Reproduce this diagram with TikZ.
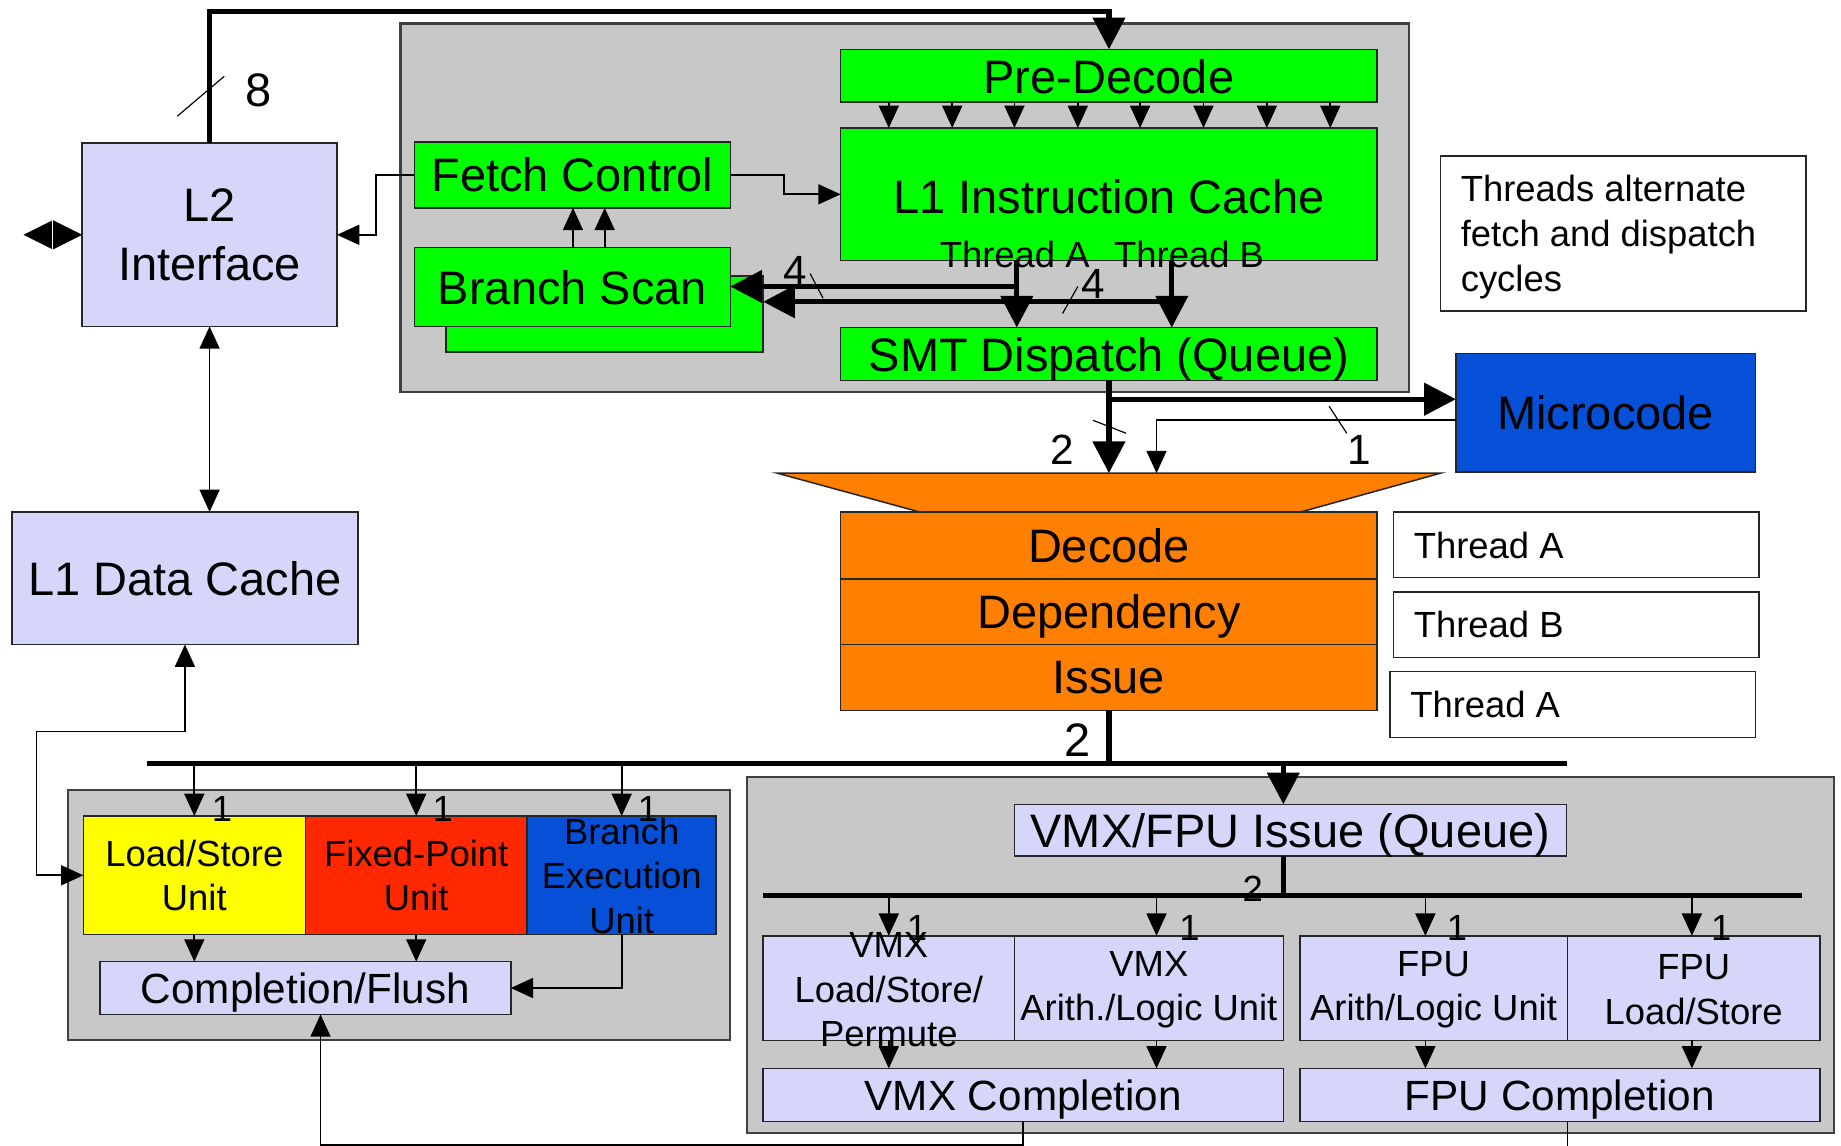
\documentclass[tikz,border=0pt]{standalone}
\usepackage{fontspec}
\setmainfont{Liberation Sans}
\usetikzlibrary{arrows.meta}
\definecolor{lav}{RGB}{214,214,250}
\definecolor{grn}{RGB}{0,255,0}
\definecolor{gry}{RGB}{200,200,200}
\definecolor{org}{RGB}{255,128,0}
\definecolor{ylw}{RGB}{255,255,0}
\definecolor{rd}{RGB}{255,40,0}
\definecolor{blu}{RGB}{5,80,215}
\newcommand\FontL{\fontsize{40}{50}\selectfont}
\newcommand\FontM{\fontsize{36}{43}\selectfont}
\newcommand\FontS{\fontsize{31}{38}\selectfont}
\begin{document}
\begin{tikzpicture}[x=1pt,y=-1pt,
  box/.style={draw=black!85,line width=1.3pt,inner sep=0pt,outer sep=0pt,align=center,font=\FontL},
  oneline/.style={text depth=0pt},
  panel/.style={draw=black!75,line width=2pt,fill=gry,inner sep=0pt,outer sep=0pt},
  unitbox/.style={box,font=\FontS},
  wire/.style={line width=1.5pt,draw=black},
  busline/.style={line width=4.5pt,draw=black},
  arS/.style={-{Triangle[length=19pt,width=17pt]}},
  arSS/.style={{Triangle[length=19pt,width=17pt]}-{Triangle[length=19pt,width=17pt]}},
  arL/.style={-{Triangle[length=27pt,width=27pt]}},
  tickmark/.style={line width=1pt},
  num/.style={font=\FontL,inner sep=0pt,anchor=base},
  numM/.style={font=\FontM,inner sep=0pt,anchor=base},
  numS/.style={font=\FontS,inner sep=0pt,anchor=base},
  celltext/.style={font=\FontS,align=center,inner sep=0pt},
]
\useasboundingbox (0,0) rectangle (1568,976);

% ---------- container panels ----------
\node[panel,minimum width=859pt,minimum height=314pt] (FrontPanel) at (770.5,177) {};
\node[panel,minimum width=564pt,minimum height=213pt] (IntPanel) at (340,779.5) {};
\node[panel,minimum width=926pt,minimum height=303pt] (VecPanel) at (1099,813.5) {};

% ---------- instruction fetch side ----------
\node[box,fill=lav,minimum width=217pt,minimum height=156pt,font=\fontsize{40}{50}\selectfont] (L2) at (178.5,200) {L2\\Interface};
\node[box,oneline,fill=lav,minimum width=295pt,minimum height=113pt] (L1D) at (157.5,492.5) {L1 Data Cache};

\node[box,oneline,fill=grn,minimum width=457pt,minimum height=45pt] (PreDecode) at (944.5,64.5) {\raisebox{-2pt}{Pre-Decode}};
\node[box,oneline,fill=grn,minimum width=457pt,minimum height=113pt] (L1I) at (944.5,165.5) {\raisebox{-3pt}{L1 Instruction Cache}};
\node[box,oneline,fill=grn,minimum width=269pt,minimum height=56pt] (FetchCtl) at (487.5,149) {Fetch Control};
\node[box,fill=grn,minimum width=270pt,minimum height=65pt] (BSshadow) at (515,267.5) {};
\node[box,oneline,fill=grn,minimum width=269pt,minimum height=67pt] (BranchScan) at (487.5,244.5) {Branch Scan};
\node[box,oneline,fill=grn,minimum width=457pt,minimum height=45pt] (SMT) at (944.5,301.5) {SMT Dispatch (Queue)};
\node[font=\FontS,inner sep=0pt,anchor=base] (ThrLbl) at (938.5,228) {Thread A\hspace{0.4em} Thread B};

\node[box,oneline,fill=blu,minimum width=255pt,minimum height=101pt] (Microcode) at (1367.5,351.5) {Microcode};
\node[box,fill=white,minimum width=311pt,minimum height=132pt] (Note) at (1382.5,199) {};
\node[font=\FontS,align=left,anchor=west,inner sep=0pt] (NoteText) at (1244,202) {Threads alternate\\fetch and dispatch\\cycles};

% ---------- decode funnel and stages ----------
\fill[org,draw=black!85,line width=1.3pt] (662,403) -- (1227,403) -- (1108,436) -- (783,436) -- cycle;
\coordinate (FunnelTop) at (944.5,403);
\node[box,oneline,fill=org,minimum width=457pt,minimum height=57pt] (Decode) at (944.5,464.5) {Decode};
\node[box,oneline,fill=org,minimum width=457pt,minimum height=56pt] (Dep) at (944.5,521) {Dependency};
\node[box,oneline,fill=org,minimum width=457pt,minimum height=56pt] (Issue) at (944.5,577) {Issue};

\node[box,fill=white,minimum width=311pt,minimum height=56pt] (ThA1) at (1342.5,464) {};
\node[box,fill=white,minimum width=311pt,minimum height=56pt] (ThB) at (1342.5,532) {};
\node[box,fill=white,minimum width=311pt,minimum height=56pt] (ThA2) at (1339.5,600) {};
\node[font=\FontS,anchor=west,inner sep=0pt] (ThA1t) at (1204,465) {Thread A};
\node[font=\FontS,anchor=west,inner sep=0pt] (ThBt) at (1204,532) {Thread B};
\node[font=\FontS,anchor=west,inner sep=0pt] (ThA2t) at (1201,600) {Thread A};

% ---------- integer / load-store / branch units ----------
\node[unitbox,fill=ylw,minimum width=189pt,minimum height=101pt] (LSU) at (165.5,745.5) {Load/Store\\Unit};
\node[unitbox,fill=rd,minimum width=189pt,minimum height=101pt] (FXU) at (354.5,745.5) {Fixed-Point\\Unit};
\node[unitbox,fill=blu,minimum width=161pt,minimum height=101pt] (BEU) at (529.5,745.5) {};
\node[celltext] (BEUt) at (529.5,746) {Branch\\Execution\\Unit};
\node[box,oneline,fill=lav,minimum width=350pt,minimum height=45pt,font=\FontM] (CompFlush) at (260,841.5) {Completion/Flush};

% ---------- VMX / FPU units ----------
\node[box,oneline,fill=lav,minimum width=470pt,minimum height=44pt] (VFIssue) at (1099,707) {VMX/FPU Issue (Queue)};
\node[unitbox,fill=lav,minimum width=214pt,minimum height=89pt] (VLS) at (757,841.5) {};
\node[celltext] (VLSt) at (757,843) {VMX\\Load/Store/\\Permute};
\node[unitbox,fill=lav,minimum width=229pt,minimum height=89pt] (VAL) at (978.5,841.5) {};
\node[celltext] (VALt) at (978.5,843) {VMX\\Arith./Logic Unit};
\node[unitbox,fill=lav,minimum width=228pt,minimum height=89pt] (FAL) at (1221,841.5) {};
\node[celltext] (FALt) at (1221,843) {FPU\\Arith/Logic Unit};
\node[unitbox,fill=lav,minimum width=215pt,minimum height=89pt] (FLS) at (1442.5,841.5) {};
\node[celltext] (FLSt) at (1442.5,843) {FPU\\Load/Store};
\node[box,oneline,fill=lav,minimum width=443pt,minimum height=45pt,font=\FontM] (VComp) at (871.5,932.5) {VMX Completion};
\node[box,oneline,fill=lav,minimum width=443pt,minimum height=45pt,font=\FontM] (FComp) at (1328.5,932.5) {FPU Completion};

% ---------- L2 external port ----------
\fill (L2.west) -- ++(-25,-12.5) -- ++(0,25) -- cycle;
\fill ([xshift=-50pt]L2.west) -- ++(25,-12.5) -- ++(0,25) -- cycle;
\draw[white,line width=1pt] ([xshift=-25pt,yshift=13pt]L2.west) -- ([xshift=-25pt,yshift=-13pt]L2.west);

% ---------- fetch path ----------
\draw[busline,arL] (L2.north) -- (L2.north |- 0,10) -- (PreDecode.north |- 0,10) -- (PreDecode.north);
\draw[tickmark] (151,99) -- (191,65);
\node[num] (n8) at (220,91) {8};

\draw[wire,arS] (FetchCtl.west) -- ++(-33,0) |- (L2.east);
\draw[wire,arS] (FetchCtl.east) -- ++(46,0) |- (L1I.west);
\foreach \x in {757,811,864,918,971,1025,1079,1133}
  \draw[wire,arS] (\x,0 |- PreDecode.south) -- (\x,0 |- L1I.north);
\draw[wire,arS] (488,0 |- BranchScan.north) -- (488,0 |- FetchCtl.south);
\draw[wire,arS] (515,0 |- BranchScan.north) -- (515,0 |- FetchCtl.south);

\coordinate (TA) at (866,244);
\coordinate (TB) at (998,257);
\draw[busline,arL] (866,0 |- L1I.south) -- (866,0 |- SMT.north);
\draw[busline,arL] (998,0 |- L1I.south) -- (998,0 |- SMT.north);
\draw[busline,arL] (TA) -- (BranchScan.east |- TA);
\draw[busline,arL] (TB) -- (BSshadow.east |- TB);
\draw[tickmark] (690,233) -- (701,254);
\node[numM] (n4a) at (677,243) {4};
\draw[tickmark] (905,267) -- (918,244);
\node[numM] (n4b) at (931,254) {4};

% ---------- dispatch to decode / microcode ----------
\draw[busline,arL] (SMT.south) -- (FunnelTop);
\draw[busline,arL] (SMT.south |- 0,340) -- (Microcode.west |- 0,340);
\draw[wire,arS] (Microcode.west |- 0,358) -| (985,0 |- FunnelTop);
\draw[tickmark] (931,358) -- (959,369);
\node[numM] (n2a) at (904.5,396) {2};
\draw[tickmark] (1132,346) -- (1147,369);
\node[numM] (n1a) at (1158,396) {1};

% ---------- issue bus ----------
\coordinate (BusL) at (125,650);
\coordinate (BusR) at (1335,650);
\draw[busline] (Issue.south) -- (Issue.south |- BusL);
\draw[busline] (BusL) -- (BusR);
\node[num] (n2b) at (918,644) {2};
\foreach \u/\lx in {LSU/189,FXU/377,BEU/552}{
  \draw[wire,arS] (\u.north |- BusL) -- (\u.north);
  \node[numS] at (\lx,700) {1};
}
\draw[busline,arL] (1093,0 |- BusL) -- (1093,0 |- VFIssue.north);

% ---------- integer completion ----------
\draw[wire,arS] (LSU.south) -- (LSU.south |- CompFlush.north);
\draw[wire,arS] (FXU.south) -- (FXU.south |- CompFlush.north);
\draw[wire,arS] (BEU.south) |- (CompFlush.east);
\draw[wire,arSS] (L2.south) -- (L2.south |- L1D.north);
\draw[wire,arSS] (LSU.west) -| (31,623) -| (L1D.south);

% ---------- VMX / FPU issue bus ----------
\coordinate (Bus2L) at (650,763);
\coordinate (Bus2R) at (1535,763);
\draw[busline] (1093,0 |- VFIssue.south) -- (1093,0 |- Bus2L);
\draw[busline] (Bus2L) -- (Bus2R);
\node[numS] (n2c) at (1067,768) {2};
\foreach \x/\u/\c/\lx in {757/VLS/VComp/781,985/VAL/VComp/1013,1214/FAL/FComp/1241,1441/FLS/FComp/1466}{
  \draw[wire,arS] (\x,0 |- Bus2L) -- (\x,0 |- \u.north);
  \draw[wire,arS] (\x,0 |- \u.south) -- (\x,0 |- \c.north);
  \node[numS] at (\lx,801) {1};
}

% ---------- completion feedback ----------
\coordinate (FCout) at (1335,976);
\draw[wire,arS] (VComp.south) -- (VComp.south |- 0,975) -| (273,0 |- CompFlush.south);
\draw[wire] (FCout |- FComp.south) -- (FCout);
\end{tikzpicture}
\end{document}
